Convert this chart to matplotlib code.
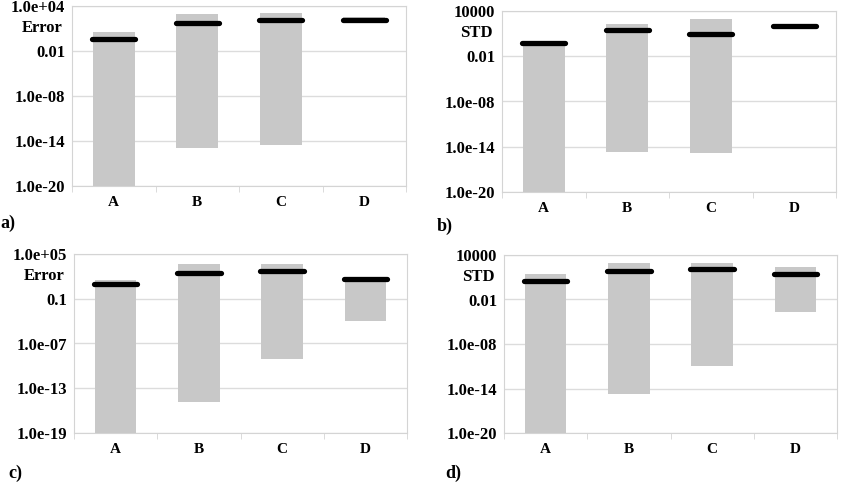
import numpy as np
import matplotlib.pyplot as plt
from matplotlib.ticker import FixedLocator, NullFormatter

plt.rcParams['font.family'] = ['Liberation Serif', 'DejaVu Serif']
plt.rcParams['font.weight'] = 'bold'

categories = ["A", "B", "C", "D"]

# panel a) Error
a_low = [1e-20, 10**-14.9, 10**-14.6, 10**1.7]
a_high = [10**0.53, 10**2.98, 10**3.1, 10**2.5]
a_mark = [10**-0.36, 10**1.73, 10**2.09, 10**2.09]

# panel b) STD
b_low = [1e-20, 10**-14.67, 10**-14.8, 10**1.75]
b_high = [10**-0.1, 10**2.27, 10**2.9, 10**2.3]
b_mark = [10**-0.29, 10**1.48, 10**0.95, 10**2.05]

# panel c) Error
c_low = [1e-19, 10**-14.9, 10**-9.08, 10**-3.97]
c_high = [10**1.46, 10**3.7, 10**3.7, 10**1.9]
c_mark = [10**0.96, 10**2.44, 10**2.67, 10**1.59]

# panel d) STD
d_low = [1e-20, 10**-14.7, 10**-10.9, 10**-3.7]
d_high = [10**1.4, 10**2.97, 10**2.97, 10**2.34]
d_mark = [10**0.46, 10**1.85, 10**2.12, 10**1.4]

ticks_a = [1e-20, 1e-14, 1e-8, 1e-2, 1e4]
labels_a = ["1.0e-20", "1.0e-14", "1.0e-08", "0.01", "1.0e+04"]
labels_b = ["1.0e-20", "1.0e-14", "1.0e-08", "0.01", "10000"]
ticks_c = [1e-19, 1e-13, 1e-7, 1e-1, 1e5]
labels_c = ["1.0e-19", "1.0e-13", "1.0e-07", "0.1", "1.0e+05"]

W, H = 841, 494
fig = plt.figure(figsize=(W / 100, H / 100), dpi=100)

panels = [
    ([72 / W, 1 - 186 / H, 334 / W, 180 / H], a_low, a_high, a_mark, ticks_a, labels_a, "Error", "a)", (0 / W, 1 - 223 / H)),
    ([502 / W, 1 - 192 / H, 334 / W, 181 / H], b_low, b_high, b_mark, ticks_a, labels_b, "STD", "b)", (437 / W, 1 - 226 / H)),
    ([74 / W, 1 - 433 / H, 333 / W, 179 / H], c_low, c_high, c_mark, ticks_c, labels_c, "Error", "c)", (8 / W, 1 - 473 / H)),
    ([504 / W, 1 - 433 / H, 333 / W, 178 / H], d_low, d_high, d_mark, ticks_a, labels_b, "STD", "d)", (445 / W, 1 - 473 / H)),
]

frame = "#d4d4d4"
x = np.arange(len(categories))

for rect, low, high, mark, ticks, labels, ylab, tag, tagpos in panels:
    ax = fig.add_axes(rect)
    ax.set_yscale("log")
    low = np.array(low)
    high = np.array(high)
    ax.bar(x, high - low, bottom=low, width=0.5, color="#c8c8c8", zorder=2)
    ax.hlines(mark, x - 0.26, x + 0.26, colors="black", linewidth=3.8,
              capstyle="round", zorder=3)
    ax.set_ylim(ticks[0], ticks[-1])
    ax.set_xlim(-0.5, len(categories) - 0.5)
    ax.yaxis.set_major_locator(FixedLocator(ticks))
    ax.yaxis.set_minor_locator(FixedLocator([]))
    ax.set_yticklabels(labels)
    ax.yaxis.set_minor_formatter(NullFormatter())
    ax.set_xticks(x)
    ax.set_xticklabels(categories)
    ax.set_xticks(np.arange(-0.5, len(categories)), minor=True)
    ax.tick_params(axis="x", which="major", length=0, pad=7, labelsize=11)
    ax.tick_params(axis="x", which="minor", length=4, color=frame, direction="out")
    ax.tick_params(axis="y", length=0, pad=5, labelsize=12)
    ax.grid(axis="y", color="#dcdcdc", linewidth=1, zorder=0)
    ax.set_axisbelow(True)
    for s in ax.spines.values():
        s.set_color(frame)
    ax.text(-0.028, 0.878, ylab, transform=ax.transAxes, ha="right", va="center",
            fontsize=12, fontweight="bold")
    fig.text(tagpos[0], tagpos[1], tag, ha="left", va="center", fontsize=13, fontweight="bold")

fig.savefig("out.png", dpi=100)
